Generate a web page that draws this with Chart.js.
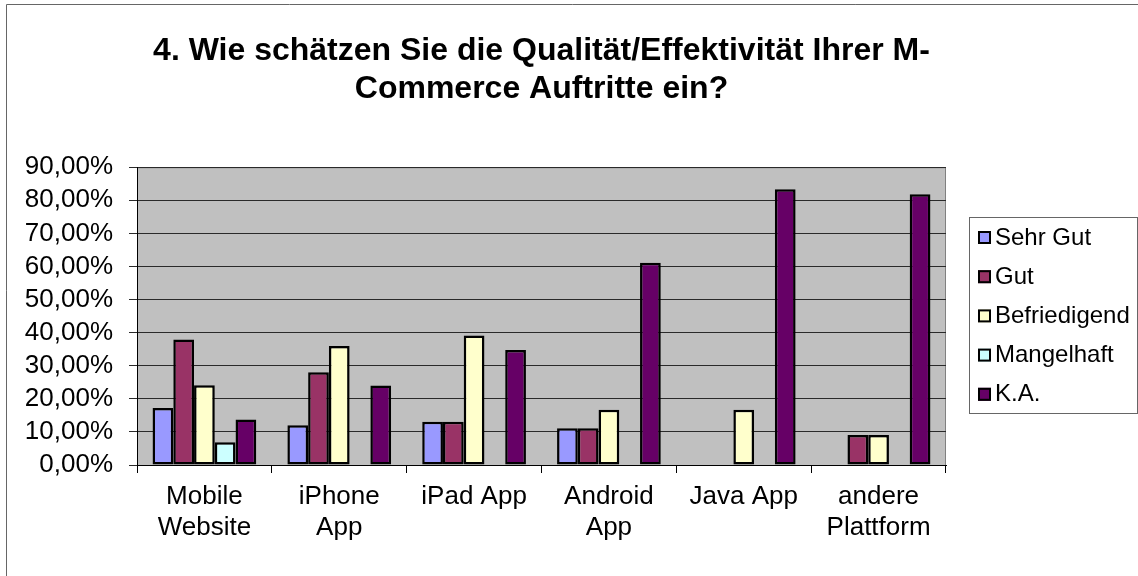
<!DOCTYPE html>
<html>
<head>
<meta charset="utf-8">
<script src="https://cdn.jsdelivr.net/npm/chart.js@4/dist/chart.umd.min.js"></script>
<style>
  html, body { margin: 0; padding: 0; background: #fff; }
  #wrap { position: relative; width: 1138px; height: 576px; }
</style>
</head>
<body>
<div id="wrap"><canvas id="chart"></canvas></div>
<script>
// ── Data ──
const categories = [['Mobile', 'Website'], ['iPhone', 'App'], 'iPad App', ['Android', 'App'], 'Java App', ['andere', 'Plattform']];
const seriesNames = ['Sehr Gut', 'Gut', 'Befriedigend', 'Mangelhaft', 'K.A.'];
const sehrGut      = [17.24, 12.00, 13.04, 11.11, null, null];
const gut          = [37.93, 28.00, 13.04, 11.11, null, 9.09];
const befriedigend = [24.14, 36.00, 39.13, 16.67, 16.67, 9.09];
const mangelhaft   = [6.90, null, null, null, null, null];
const keineAngabe  = [13.79, 24.00, 34.78, 61.11, 83.33, 81.82];
const yTickLabels  = ['0,00%', '10,00%', '20,00%', '30,00%', '40,00%', '50,00%', '60,00%', '70,00%', '80,00%', '90,00%'];
const titleLines   = ['4. Wie schätzen Sie die Qualität/Effektivität Ihrer M-', 'Commerce Auftritte ein?'];

const colors = ['#9999FF', '#993366', '#FFFFCC', '#CCFFFF', '#660066'];
const FONT = '"Liberation Sans", Arial, sans-serif';

// ── Plot background, outer frame, legend box ──
const excelLook = {
  id: 'excelLook',
  beforeDraw(chart) {
    const { ctx, chartArea: a } = chart;
    ctx.save();
    ctx.fillStyle = '#C0C0C0';
    ctx.fillRect(a.left, a.top, a.right - a.left, a.bottom - a.top);
    ctx.strokeStyle = '#808080';
    ctx.lineWidth = 1;
    ctx.strokeRect(a.left + 0.5, a.top + 0.5, a.right - a.left - 1, a.bottom - a.top);
    // outer frame (only top / left visible)
    ctx.strokeStyle = '#666';
    ctx.beginPath();
    ctx.moveTo(6.5, 600);
    ctx.lineTo(6.5, 4.5);
    ctx.lineTo(1200, 4.5);
    ctx.stroke();
    ctx.restore();
  },
  afterDraw(chart) {
    const { ctx } = chart;
    ctx.save();
    ctx.strokeStyle = '#666';
    ctx.lineWidth = 1;
    ctx.strokeRect(969.5, 217.5, 168, 196);
    ctx.font = '24px ' + FONT;
    ctx.textBaseline = 'middle';
    ctx.textAlign = 'left';
    chart.data.datasets.forEach((ds, i) => {
      const y = 237 + i * 39.2;
      ctx.fillStyle = ds.backgroundColor;
      ctx.fillRect(978, y - 6, 13, 13);
      ctx.strokeStyle = '#000';
      ctx.lineWidth = 2;
      ctx.strokeRect(979, y - 5, 11, 11);
      ctx.fillStyle = '#000';
      ctx.fillText(ds.label, 995, y + 1);
    });
    ctx.restore();
  },
};

const seriesData = [sehrGut, gut, befriedigend, mangelhaft, keineAngabe];

new Chart(document.getElementById('chart'), {
  type: 'bar',
  data: {
    labels: categories,
    datasets: seriesNames.map((name, i) => ({
      label: name,
      data: seriesData[i],
      backgroundColor: colors[i],
      borderColor: '#000',
      borderWidth: 2.5,
      borderSkipped: false,
      categoryPercentage: 5 / 6.5,
      barPercentage: 1,
    })),
  },
  options: {
    responsive: true,
    maintainAspectRatio: false,
    animation: false,
    layout: { padding: { left: 0, right: 192, top: 0, bottom: 0 } },
    plugins: {
      legend: { display: false },
      tooltip: { enabled: false },
      title: {
        display: true,
        fullSize: false,
        text: titleLines,
        color: '#000',
        font: { family: FONT, size: 32, weight: 'bold', lineHeight: 1.16 },
        padding: { top: 33, bottom: 60 },
      },
    },
    scales: {
      x: {
        afterFit: s => { s.height = 111; },
        grid: { offset: true, drawOnChartArea: false, tickLength: 8, color: '#000' },
        border: { color: '#000', width: 1 },
        ticks: { color: '#000', padding: 8, maxRotation: 0, autoSkip: false,
                 font: { family: FONT, size: 26, lineHeight: 1.2 } },
      },
      y: {
        min: 0,
        max: 90,
        afterFit: s => { s.width = 137; },
        grid: { color: '#2a2a2a', tickLength: 8 },
        border: { color: '#000', width: 1 },
        ticks: { stepSize: 10, color: '#000', padding: 16, autoSkip: false,
                 font: { family: FONT, size: 26, lineHeight: 1 },
                 callback: v => yTickLabels[Math.round(v / 10)] },
      },
    },
  },
  plugins: [excelLook],
});
</script>
</body>
</html>
